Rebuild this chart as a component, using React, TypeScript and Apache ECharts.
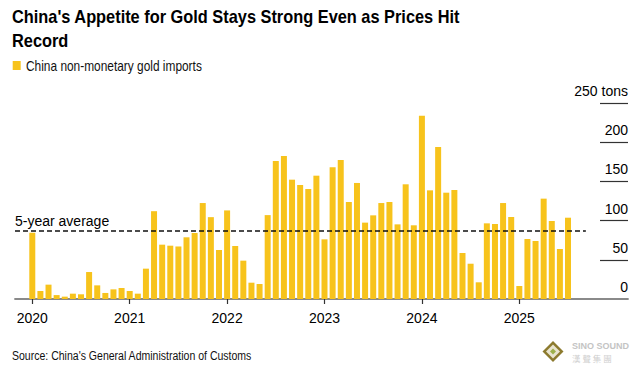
import React, { useEffect, useRef } from "react";
import * as echarts from "echarts";

const startYear = 2020;
const imports: number[] = [
  // 2020
  84.6, 10.2, 18.3, 5, 3, 6.8, 6, 34.4, 17.4, 7.7, 12.3, 14,
  // 2021
  10.2, 6.8, 38.7, 112, 69.3, 68, 67, 78.7, 84.2, 122.4, 104.4, 62.5,
  // 2022
  113, 67.6, 48.9, 20.8, 19.1, 107, 176, 182.4, 152.2, 145.4, 140.3, 157.3,
  // 2023
  76.1, 168, 177.3, 123.7, 148, 97.4, 106.7, 122.4, 123.7, 95.2, 146.3, 94,
  // 2024
  233.8, 138.6, 193.9, 135.6, 139, 58.7, 45, 21.3, 96.5, 95.7, 122.4, 104.6,
  // 2025
  16.6, 76.5, 74, 128, 99.5, 63.8, 103.7,
];
const fiveYearAverage = 86.7;
const yearTickMonths = [0, 12, 24, 36, 48, 60];
const yTicks = [50, 100, 150, 200, 250];
const xMin = -2.13;
const xMax = 73.39;
const avgLineEnd = 68.2;

const BAR = "#F7C31C";
const FONT = "Liberation Sans, Arial, sans-serif";

export default function App() {
  const ref = useRef<HTMLDivElement>(null);
  useEffect(() => {
    document.body.style.margin = "0";
    const chart = echarts.init(ref.current!, null, { renderer: "svg" });
    chart.setOption({
      animation: false,
      backgroundColor: "#fff",
      grid: { left: 15, right: 13, top: 103, bottom: 79 },
      xAxis: {
        type: "value",
        min: xMin,
        max: xMax,
        splitLine: { show: false },
        axisLine: { show: true, onZero: false, lineStyle: { color: "#8a8a8a", width: 1.8 } },
        axisTick: {
          show: true,
          customValues: yearTickMonths,
          length: 5,
          lineStyle: { color: "#333", width: 1.2 },
        },
        axisLabel: {
          customValues: yearTickMonths,
          formatter: (v: number) => String(startYear + Math.round(v / 12)),
          fontSize: 14,
          fontFamily: FONT,
          color: "#000",
          margin: 12,
        },
      },
      yAxis: {
        type: "value",
        position: "right",
        min: 0,
        max: 250,
        interval: 50,
        splitLine: { show: false },
        axisLine: { show: false, onZero: false },
        axisTick: {
          show: true,
          inside: true,
          length: 28,
          customValues: yTicks,
          lineStyle: { color: "#333", width: 1.2 },
        },
        axisLabel: {
          inside: true,
          margin: 0,
          align: "right",
          verticalAlign: "bottom",
          padding: [0, 0, 5, 0],
          lineHeight: 14,
          fontSize: 14,
          fontFamily: FONT,
          color: "#000",
          formatter: (v: number) => (v === 250 ? "250 tons" : String(v)),
        },
      },
      series: [
        {
          type: "bar",
          name: "China non-monetary gold imports",
          data: imports.map((v, i) => [i, v]),
          barWidth: 6,
          itemStyle: { color: BAR },
          markLine: {
            silent: true,
            symbol: "none",
            lineStyle: { type: [5, 3], color: "#111", width: 1.5 },
            label: {
              show: true,
              position: "insideStartTop",
              formatter: "5-year average",
              fontSize: 14,
              fontFamily: FONT,
              color: "#000",
              distance: [0, 3],
            },
            data: [
              [
                { coord: [xMin, fiveYearAverage] },
                { coord: [avgLineEnd, fiveYearAverage] },
              ],
            ],
          },
        },
      ],
      graphic: [
        {
          type: "text",
          x: 12,
          y: 16.5,
          scaleX: 0.884,
          style: {
            text: "China's Appetite for Gold Stays Strong Even as Prices Hit",
            font: `bold 18.5px ${FONT}`,
            fill: "#000",
            textAlign: "left",
            textVerticalAlign: "middle",
          },
        },
        {
          type: "text",
          x: 12,
          y: 40.5,
          scaleX: 0.884,
          style: {
            text: "Record",
            font: `bold 18.5px ${FONT}`,
            fill: "#000",
            textAlign: "left",
            textVerticalAlign: "middle",
          },
        },
        {
          type: "rect",
          shape: { x: 12.7, y: 61, width: 8, height: 9 },
          style: { fill: BAR },
        },
        {
          type: "text",
          x: 26,
          y: 66,
          scaleX: 0.85,
          style: {
            text: "China non-monetary gold imports",
            font: `14px ${FONT}`,
            fill: "#111",
            textAlign: "left",
            textVerticalAlign: "middle",
          },
        },
        {
          type: "text",
          x: 12,
          y: 356,
          scaleX: 0.78,
          style: {
            text: "Source: China's General Administration of Customs",
            font: `13.5px ${FONT}`,
            fill: "#111",
            textAlign: "left",
            textVerticalAlign: "middle",
          },
        },
        {
          type: "group",
          children: [
            {
              type: "polygon",
              shape: { points: [[553, 341], [563.5, 351.5], [553, 362], [542.5, 351.5]] },
              style: { fill: "#8c7a2e" },
            },
            {
              type: "polygon",
              shape: { points: [[553, 344.5], [560, 351.5], [553, 358.5], [546, 351.5]] },
              style: { fill: "#e9e4cf" },
            },
            {
              type: "polygon",
              shape: { points: [[553, 348.5], [556, 351.5], [553, 354.5], [550, 351.5]] },
              style: { fill: "#9db04a" },
            },
            {
              type: "text",
              x: 572,
              y: 346,
              style: {
                text: "SINO SOUND",
                font: `bold 9px ${FONT}`,
                fill: "#c4c4c4",
                textAlign: "left",
                textVerticalAlign: "middle",
              },
            },
            {
              type: "text",
              x: 572,
              y: 358,
              style: {
                text: "漢 聲 集 團",
                font: `8.5px "Noto Sans CJK TC", sans-serif`,
                fill: "#cfcfcf",
                textAlign: "left",
                textVerticalAlign: "middle",
              },
            },
          ],
        },
      ],
    });
    return () => chart.dispose();
  }, []);
  return <div ref={ref} style={{ width: 641, height: 378 }} />;
}
